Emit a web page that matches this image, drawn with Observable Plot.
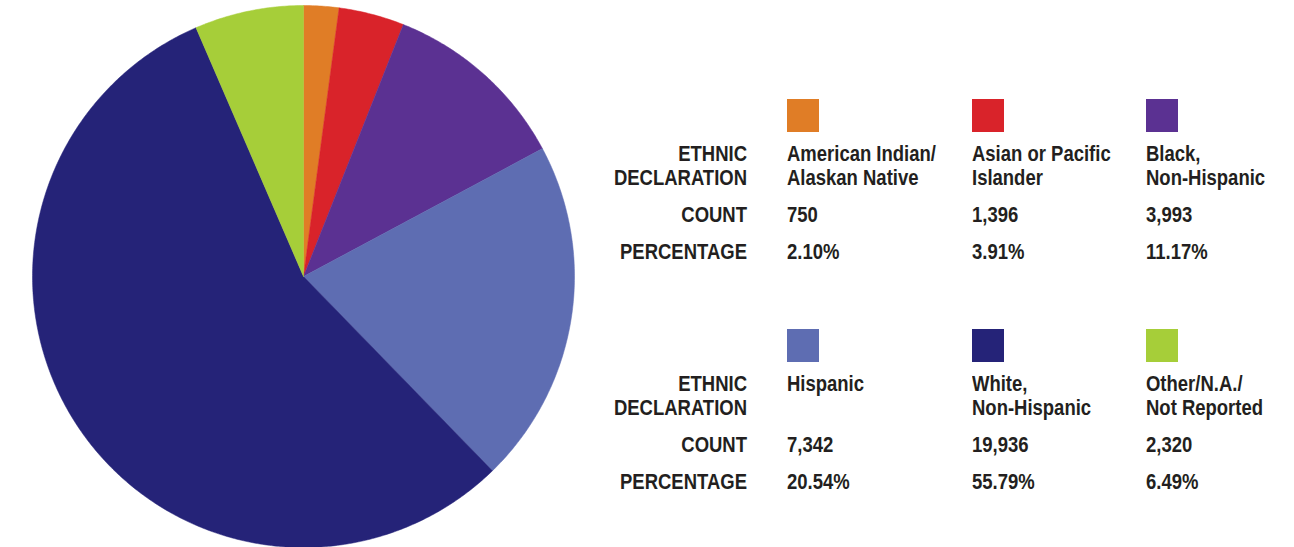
<!DOCTYPE html>
<html>
<head>
<meta charset="utf-8">
<script src="https://cdn.jsdelivr.net/npm/d3@7"></script>
<script src="https://cdn.jsdelivr.net/npm/@observablehq/plot@0.6"></script>
<style>
  html, body { margin: 0; padding: 0; background: #fff; }
  #wrap { position: relative; width: 1294px; height: 547px; overflow: hidden; }
  #pie { position: absolute; left: 0; top: 0; }
  .t { position: absolute; font-family: "Liberation Sans", Arial, sans-serif;
       font-weight: bold; font-size: 22px; line-height: 24px; color: #231f20; white-space: pre;
       transform: scaleX(0.84); transform-origin: left top; }
  .lab { text-align: right; width: 200px; transform-origin: right top; }
  .sw { position: absolute; width: 32px; height: 33px; }
</style>
</head>
<body>
<div id="wrap"><div id="pie"></div></div>
<script>
const categories = [
  "American Indian/\nAlaskan Native",
  "Asian or Pacific\nIslander",
  "Black,\nNon-Hispanic",
  "Hispanic",
  "White,\nNon-Hispanic",
  "Other/N.A./\nNot Reported"
];
const counts = [750, 1396, 3993, 7342, 19936, 2320];
const percentages = ["2.10%", "3.91%", "11.17%", "20.54%", "55.79%", "6.49%"];
const colors = ["#e07d26", "#d9232a", "#5b3192", "#5e6db2", "#252378", "#a6ce39"];
const rowLabels = ["ETHNIC\nDECLARATION", "COUNT", "PERCENTAGE"];

// pie geometry in unit-circle coordinates, starting at 12 o'clock, clockwise
const total = d3.sum(counts);
let acc = 0;
const pts = [];
categories.forEach((c, i) => {
  const a0 = acc / total * 2 * Math.PI;
  acc += counts[i];
  const a1 = acc / total * 2 * Math.PI;
  const n = Math.max(2, Math.ceil((a1 - a0) / (Math.PI / 360)));
  pts.push({k: c, x: 0, y: 0});
  for (let j = 0; j <= n; j++) {
    const a = a0 + (a1 - a0) * j / n;
    pts.push({k: c, x: Math.sin(a), y: Math.cos(a)});
  }
  pts.push({k: c, x: 0, y: 0});
});

const R = 271, cx = 303, cy = 276, W = 606, H = 547;
const chart = Plot.plot({
  width: W, height: H, margin: 0,
  x: {domain: [-cx / R, (W - cx) / R], axis: null},
  y: {domain: [-(H - cy) / R, cy / R], axis: null},
  color: {domain: categories, range: colors},
  marks: [
    Plot.line(pts, {x: "x", y: "y", z: "k", fill: "k", stroke: "k", strokeWidth: 0.5})
  ]
});
document.getElementById("pie").appendChild(chart);

// legend table
const wrap = document.getElementById("wrap");
const colX = [787, 972, 1146];
const rowTop = [142, 203, 239.5];
function addText(txt, left, top, cls) {
  const d = document.createElement("div");
  d.className = "t " + (cls || "");
  d.textContent = txt;
  d.style.left = left + "px";
  d.style.top = top + "px";
  wrap.appendChild(d);
  return d;
}
for (let b = 0; b < 2; b++) {
  const off = b * 230;
  rowLabels.forEach((r, i) => addText(r, 747 - 200, rowTop[i] + off, "lab"));
  for (let c = 0; c < 3; c++) {
    const i = b * 3 + c;
    const sw = document.createElement("div");
    sw.className = "sw";
    sw.style.left = colX[c] + "px";
    sw.style.top = (99 + off) + "px";
    sw.style.background = colors[i];
    wrap.appendChild(sw);
    addText(categories[i], colX[c], rowTop[0] + off);
    addText(d3.format(",")(counts[i]), colX[c], rowTop[1] + off);
    addText(percentages[i], colX[c], rowTop[2] + off);
  }
}
</script>
</body>
</html>
